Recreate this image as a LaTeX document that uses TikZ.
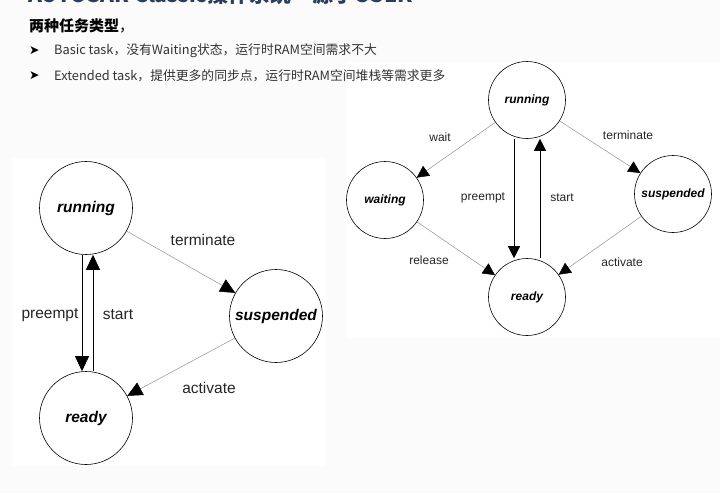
\documentclass[tikz,border=0pt]{standalone}
\usepackage{fontspec}
\setmainfont{Liberation Sans}
\newfontfamily\cjk{Noto Sans CJK SC}
\newfontfamily\symf{DejaVu Sans}
\usetikzlibrary{arrows.meta, positioning, calc}

\definecolor{titleblue}{RGB}{44,62,90}
\definecolor{panelbg}{RGB}{251,251,251}

\tikzset{
  bigst/.style={circle, draw, line width=0.6pt, minimum size=93pt, inner sep=0pt,
    font=\fontsize{15.5}{18}\selectfont\bfseries\itshape},
  smallst/.style={bigst, minimum size=77pt, font=\fontsize{12}{14}\selectfont\bfseries\itshape},
  biglbl/.style={font=\fontsize{15.5}{18}\selectfont, text=black!85},
  smalllbl/.style={font=\fontsize{12}{14}\selectfont, text=black!85},
  bigtip/.style={-{Triangle[length=15pt,width=14pt,color=black]}},
  smalltip/.style={-{Triangle[length=12pt,width=12pt,color=black]}},
  grayline/.style={draw=gray!85, line width=0.5pt},
  blackline/.style={draw=black, line width=0.6pt},
}

\begin{document}
\begin{tikzpicture}[x=1pt,y=-1pt]
        \clip (0,0) rectangle (720,493);
        \fill[panelbg] (0,0) rectangle (720,493);
        \fill[white] (12,158) rectangle (326,466);
        \fill[white] (346,62) rectangle (720,338);
        % Heading and bullets
        \node[anchor=base west, inner sep=0pt, text=titleblue,
          font=\cjk\fontsize{21}{24}\selectfont\bfseries] (title) at (28,2.5) {AUTOSAR Classic操作系统 – 源于OSEK};
        \node[anchor=west, inner sep=0pt, font=\cjk\fontsize{15}{18}\selectfont\bfseries] (types) at (29,26) {两种任务类型\textmd{，}};
        \node[anchor=west, inner sep=0pt, font=\symf\fontsize{12.5}{14}\selectfont] (bul1) at (29,51) {➤};
        \node[anchor=west, inner sep=0pt, text=black!80, font=\cjk\fontsize{12.8}{15}\selectfont] (basic) at (54,51) {Basic task，没有Waiting状态，运行时RAM空间需求不大};
        \node[anchor=west, inner sep=0pt, font=\symf\fontsize{12.5}{14}\selectfont] (bul2) at (29,76) {➤};
        \node[anchor=west, inner sep=0pt, text=black!80, font=\cjk\fontsize{12.8}{15}\selectfont] (extended) at (54,76) {Extended task，提供更多的同步点，运行时RAM空间堆栈等需求更多};
        % Basic task states
        \node[bigst] (lrun) at (86,208) {running};
        \node[bigst] (lsus) at (276,316) {suspended};
        \node[bigst] (lrdy) at (86,418) {ready};
        \draw[blackline, bigtip] ([xshift=-4pt]lrun.south) -- ([xshift=-4pt]lrdy.north);
        \draw[blackline, bigtip] ([xshift=7pt]lrdy.north) -- ([xshift=7pt]lrun.south);
        \draw[grayline, bigtip] (lrun) -- (lsus);
        \draw[grayline, bigtip] (lsus) -- (lrdy);
        \node[biglbl] (lpre) at (50,315) {preempt};
        \node[biglbl] (lsta) at (118,315) {start};
        \node[biglbl] (lter) at (203,240) {terminate};
        \node[biglbl] (lact) at (209,388) {activate};
        % Extended task states
        \node[smallst] (rrun) at (527,100) {running};
        \node[smallst] (rwait) at (385,200) {waiting};
        \node[smallst] (rsus) at (673,194) {suspended};
        \node[smallst] (rrdy) at (527,297) {ready};
        \draw[blackline, smalltip] ([xshift=-13pt]rrun.south) -- ([xshift=-13pt]rrdy.north);
        \draw[blackline, smalltip] ([xshift=13pt]rrdy.north) -- ([xshift=13pt]rrun.south);
        \draw[grayline, smalltip] (rrun) -- (rwait);
        \draw[grayline, smalltip] (rrun) -- (rsus);
        \draw[grayline, smalltip] (rwait) -- (rrdy);
        \draw[grayline, smalltip] (rsus) -- (rrdy);
        \node[smalllbl] (rwai) at (440,137) {wait};
        \node[smalllbl] (rter) at (628,135) {terminate};
        \node[smalllbl] (rpre) at (483,198) {preempt};
        \node[smalllbl] (rsta) at (562,198) {start};
        \node[smalllbl] (rrel) at (429,260) {release};
        \node[smalllbl] (ract) at (622,262) {activate};
\end{tikzpicture}
\end{document}
